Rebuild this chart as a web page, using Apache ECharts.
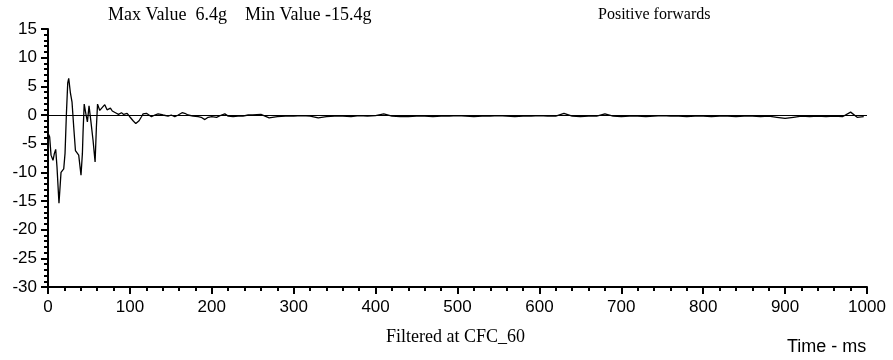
<!DOCTYPE html>
<html>
<head>
<meta charset="utf-8">
<script src="https://cdn.jsdelivr.net/npm/echarts@6/dist/echarts.min.js"></script>
<style>
  html, body { margin: 0; padding: 0; background: #fff; }
  #chart { width: 893px; height: 360px; }
</style>
</head>
<body>
<div id="chart"></div>
<script>
// Acceleration trace (g) against time (ms), filtered at CFC 60
const timeMs = [
  0, 2, 3.7, 5, 6.1, 7.8, 9.4, 11, 13.4, 15.9, 19.2, 20.8, 22.5, 24.1, 25.3, 27.4,
  29.3, 31.4, 33.5, 37.5, 40.3, 42.0, 42.8, 44.2, 46.5, 48.1, 50.1, 52.2, 55, 57.5,
  59.1, 60.5, 63.2, 65.5, 69.3, 72.1, 73.3, 76.2, 78.5, 80.3, 83.5, 86, 89.7, 92.5,
  96.6, 99.8, 103.9, 107.2, 111.2, 114.1, 116.1, 120.2, 122.5, 126.3, 130.4, 134.4,
  137.7, 140.5, 146.6, 150.5, 154.8, 159, 163.7, 167, 171, 177.2, 183.3, 187, 191.5,
  195.5, 200, 205.8, 211.9, 215.9, 220, 226, 232, 238, 244.4, 250,
  260, 270, 280, 290, 300, 310, 320, 330, 340, 350, 360, 370, 380, 390, 400,
  410, 420, 430, 440, 450, 460, 470, 480, 490, 500, 510, 520, 530, 540, 550,
  560, 570, 580, 590, 600, 610, 620, 630, 640, 650, 660, 670, 680, 690, 700,
  710, 720, 730, 740, 750, 760, 770, 780, 790, 800, 810, 820, 830, 840, 850,
  860, 870, 880, 890, 900, 910, 920, 930, 940, 950, 960, 970, 980, 988, 996, 1000
];
const accelG = [
  -3.2, -3.8, -7.0, -7.3, -7.9, -6.7, -6.0, -9.1, -15.4, -10.0, -9.4, -6.7, 0.3, 5.6, 6.4, 3.8,
  2.3, -2.1, -6.2, -7.0, -10.5, -6.7, -3.0, 1.9, 0.0, -1.2, 1.6, -0.9, -4.4, -8.2,
  -2.1, 1.9, 0.8, 0.9, 1.8, 0.9, 0.8, 1.2, 0.7, 0.4, 0.3, 0.1, 0.4, 0.1,
  0.3, -0.3, -1.0, -1.5, -1.0, -0.3, 0.2, 0.3, 0.3, -0.3, 0.0, 0.2,
  0.1, 0.0, -0.2, 0.0, -0.3, 0.0, 0.4, 0.3, 0.0, -0.2, -0.3, -0.4, -0.8,
  -0.4, -0.3, -0.4, 0.0, 0.2, -0.2, -0.3, -0.2, -0.2, 0.0, 0.0,
  0.1, -0.5, -0.3, -0.2, -0.2, -0.1, -0.2, -0.5, -0.3, -0.2, -0.2, -0.3, -0.1, -0.2, -0.1,
  0.2, -0.2, -0.3, -0.3, -0.2, -0.2, -0.3, -0.2, -0.2, -0.1, -0.2, -0.3, -0.2, -0.2, -0.1,
  -0.2, -0.3, -0.2, -0.2, -0.1, -0.2, -0.2, 0.3, -0.2, -0.3, -0.2, -0.2, 0.2, -0.2, -0.3,
  -0.2, -0.2, -0.3, -0.2, -0.1, -0.2, -0.2, -0.3, -0.2, -0.2, -0.3, -0.2, -0.2, -0.3, -0.2,
  -0.2, -0.3, -0.2, -0.4, -0.6, -0.4, -0.2, -0.3, -0.2, -0.3, -0.2, -0.3, 0.5, -0.4, -0.3
];
const xTicks = { min: 0, max: 1000, step: 100 };
const yTicks = { min: -30, max: 15, step: 5 };

const maxText = 'Max Value  6.4g';
const minText = 'Min Value -15.4g';
const directionText = 'Positive forwards';
const filterText = 'Filtered at CFC_60';
const axisTitleText = 'Time - ms';

const points = timeMs.map((t, i) => [t, accelG[i]]);

const chart = echarts.init(document.getElementById('chart'), null, { renderer: 'canvas' });
const sans = '"Liberation Sans", Arial, sans-serif';
const serif = '"Liberation Serif", "Times New Roman", serif';

function label(text, x, y, font) {
  return {
    type: 'text', x: x, y: y,
    style: { text: text, font: font, fill: '#000', verticalAlign: 'middle', align: 'left' }
  };
}

chart.setOption({
  animation: false,
  backgroundColor: '#fff',
  grid: { left: 48, right: 26, top: 29, bottom: 73, containLabel: false },
  xAxis: {
    type: 'value',
    min: xTicks.min, max: xTicks.max, interval: xTicks.step,
    axisLine: { onZero: false, lineStyle: { color: '#000', width: 2 } },
    axisTick: { length: 7, lineStyle: { color: '#000', width: 2 } },
    minorTick: { show: true, splitNumber: 5, length: 4, lineStyle: { color: '#000', width: 2 } },
    axisLabel: { color: '#000', fontFamily: sans, fontSize: 17, margin: 12, formatter: v => String(v) },
    splitLine: { show: false }
  },
  yAxis: {
    type: 'value',
    min: yTicks.min, max: yTicks.max, interval: yTicks.step,
    axisLine: { show: true, onZero: false, lineStyle: { color: '#000', width: 2 } },
    axisTick: { show: true, length: 7, lineStyle: { color: '#000', width: 2 } },
    minorTick: { show: true, splitNumber: 5, length: 4, lineStyle: { color: '#000', width: 2 } },
    axisLabel: { color: '#000', fontFamily: sans, fontSize: 17, margin: 11 },
    splitLine: { show: false }
  },
  series: [{
    type: 'line',
    data: points,
    showSymbol: false,
    symbol: 'none',
    smooth: false,
    lineStyle: { color: '#000', width: 1.3 },
    markLine: {
      silent: true,
      symbol: 'none',
      label: { show: false },
      lineStyle: { color: '#000', width: 1, type: 'solid' },
      data: [{ yAxis: 0 }]
    }
  }],
  graphic: [
    label(maxText, 108, 15, '18px ' + serif),
    label(minText, 245, 15, '18px ' + serif),
    label(directionText, 598, 15, '16px ' + serif),
    label(filterText, 386, 337, '18px ' + serif),
    label(axisTitleText, 787, 347, '18px ' + sans)
  ]
});
</script>
</body>
</html>
